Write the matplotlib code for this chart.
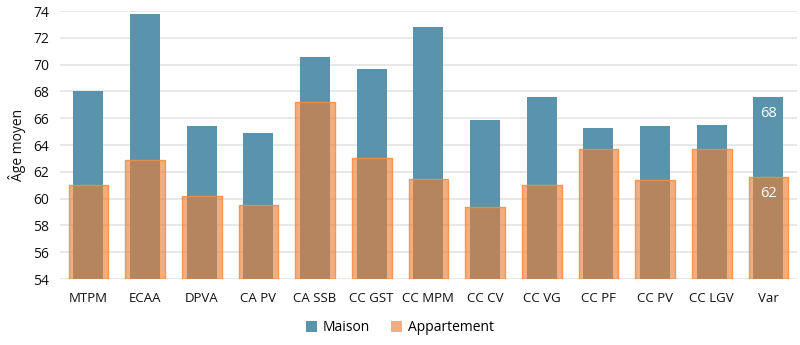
import numpy as np
import matplotlib; matplotlib.use("Agg"); import matplotlib.pyplot as plt
from matplotlib.patches import Patch

CATS = ["MTPM", "ECAA", "DPVA", "CA PV", "CA SSB", "CC GST", "CC MPM",
        "CC CV", "CC VG", "CC PF", "CC PV", "CC LGV", "Var"]
MAISON = [68.0, 73.8, 65.4, 64.9, 70.6, 69.7, 72.8, 65.9, 67.6, 65.3, 65.4, 65.5, 67.6]
APPART = [61.0, 62.9, 60.2, 59.5, 67.2, 63.0, 61.5, 59.4, 61.0, 63.7, 61.4, 63.7, 61.6]
LABELLED = ["Var"]  # bars annotated with their rounded value

BLUE = "#5a94ac"; ORANGE_FILL = (0.93, 0.49, 0.19, 0.62)

plt.rcParams["font.family"] = ["Open Sans", "DejaVu Sans"]
fig = plt.figure(figsize=(8, 3.45), dpi=100)
ax = fig.add_axes([0.075, 0.191, 0.921, 0.777])

x = np.arange(len(CATS))
ax.bar(x, np.array(MAISON) - 54, bottom=54, width=0.53, color=BLUE, zorder=2)
ax.bar(x, np.array(APPART) - 54, bottom=54, width=0.70, facecolor=ORANGE_FILL,
       edgecolor=(0.96, 0.55, 0.25, 0.85), linewidth=1.0, zorder=3)

for i, c in enumerate(CATS):
    if c in LABELLED:
        for v in (MAISON[i], APPART[i]):
            ax.text(i, v - 1.25, f"{v:.0f}", ha="center", va="center", color="white", fontsize=10.5, zorder=4)

ax.set_ylim(54, 74); ax.set_yticks(range(54, 75, 2))
ax.set_xlim(-0.5, len(CATS) - 0.5)
ax.set_xticks(x); ax.set_xticklabels(CATS, fontsize=9.5, color="#111111")
ax.tick_params(axis="y", labelsize=10, labelcolor="#111111", length=0, pad=8)
ax.tick_params(axis="x", length=0, pad=9)
for s in ax.spines.values(): s.set_visible(False)
ax.yaxis.grid(True, color="#e4e4e4", linewidth=1.2, zorder=0); ax.set_axisbelow(True)
ax.set_ylabel("Âge moyen", fontsize=10, color="#111111", labelpad=5)

handles = [Patch(facecolor=BLUE, label="Maison"),
           Patch(facecolor=ORANGE_FILL, label="Appartement")]
fig.legend(handles=handles, loc="center", bbox_to_anchor=(0.5, 0.05), ncol=2, frameon=False,
           fontsize=10, handlelength=0.8, handleheight=0.8, handletextpad=0.4, columnspacing=1.5)

fig.savefig("out.png", dpi=100)
